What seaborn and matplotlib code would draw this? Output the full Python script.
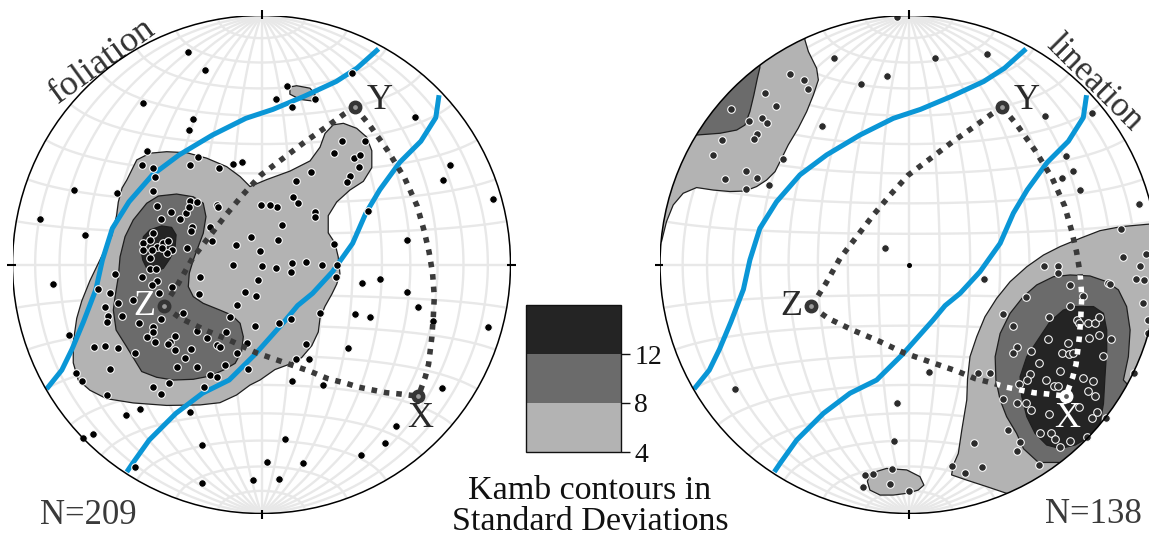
import numpy as np
import matplotlib
matplotlib.use("Agg")
import matplotlib.pyplot as plt
from matplotlib.patches import Polygon, Circle
from matplotlib.colors import ListedColormap, BoundaryNorm
import matplotlib.cm as cm
import seaborn as sns

sns.set_theme(style="white")
plt.rcParams["font.family"] = ["Liberation Serif", "DejaVu Serif"]

# ---------------- data (net units: primitive radius = 100) ----------------
foliation_pts = [
    (-29.7, 85.2), (-22.7, 78.1), (-47.7, 65.0), (-27.6, 58.4), (-29.3, 54.0), (-46.1, 45.6),
    (-25.5, 43.3), (-48.1, 40.0), (-43.5, 38.9), (-28.7, 40.0), (-17.1, 38.6), (-11.3, 40.4),
    (-7.7, 41.3),
    (36.2, 77.0), (10.1, 71.6), (21.5, 66.4), (5.7, 66.4), (12.3, 63.2), (61.7, 59.1), (75.7, 39.8),
    (73.0, 33.8), (93.1, 26.2), (-75.3, 29.8), (-89.0, 18.2), (-70.8, 11.9), (42.9, 21.4), (58.6, 9.7),
    (29.1, 8.2), (-83.6, -7.9), (40.2, -7.6), (47.6, -5.8), (58.3, -10.9), (62.7, -17.1), (37.6, -19.8),
    (43.6, -21.1), (68.8, -22.7), (91.1, -25.1), (34.9, -33.5), (72.6, -49.5), (53.9, -64.9),
    (49.6, -71.8), (40.0, -76.4), (12.1, -46.8), (24.8, -48.2), (9.4, -70.2), (16.5, -79.7),
    (2.1, -79.4), (-3.3, -86.5), (7.2, -86.0), (-23.8, -87.9), (-71.8, -69.8), (-67.6, -68.0),
    (-72.0, -46.7), (-74.5, -43.4), (-77.2, -28.2), (-62.2, -52.3), (-67.2, -33.0), (-65.8, -9.7),
    (-50.8, -81.5), (-43.7, -49.1), (-40.4, -52.0), (-37.0, -47.7), (-23.0, -49.3), (-28.7, -59.4),
    (-48.8, -58.2), (-54.4, -60.6), (-23.8, -72.5),
    (32.2, 49.6), (41.6, 49.6), (29.3, 44.6), (37.3, 42.6), (39.6, 44.0), (39.2, 39.1), (35.5, 35.4),
    (34.2, 33.1), (19.8, 37.1), (13.7, 33.4), (12.8, 27.2), (14.5, 24.7), (6.1, 23.1), (3.4, 23.7),
    (21.5, 21.0), (21.5, 18.9), (8.4, 16.0), (6.8, 10.0), (5.8, -1.3), (12.1, 0.8), (11.9, -3.1),
    (17.9, 1.1), (24.4, -0.3), (30.2, -0.3), (29.9, -4.9), (23.5, -19.6), (7.0, -23.4), (11.9, -21.9),
    (17.7, -31.9), (13.7, -38.1), (19.1, -38.1),
    (-58.2, 28.9), (-43.5, 29.7), (-42.8, 35.0), (-41.8, 23.5), (-36.5, 21.2), (-40.5, 18.1),
    (-32.7, 18.1), (-30.3, 20.6), (-28.7, 25.6), (-26.0, 25.2), (-29.0, 23.0), (-28.1, 15.2),
    (-28.5, 13.5), (-29.8, 6.8), (-20.7, 14.9), (-19.8, 9.4), (-18.0, 23.9), (-17.3, 23.2), (-0.2, 23.9),
    (-43.5, 12.5), (-47.7, 8.8), (-47.5, 5.8), (-44.8, 9.8), (-42.1, 6.9), (-44.1, 5.8), (-39.4, 8.8),
    (-37.4, 9.6), (-36.1, 5.8), (-38.1, 4.5), (-40.1, 6.5), (-44.8, 2.5),
    (-44.8, -1.9), (-42.4, -1.9), (-48.1, -5.2), (-42.1, -6.5), (-44.1, -8.2), (-36.1, -8.9),
    (-41.0, -11.6), (-51.5, -14.3), (-58.8, -3.8), (-60.9, -11.6), (-57.5, -15.6), (-62.9, -17.2),
    (-61.5, -20.7), (-56.2, -20.7), (-61.9, -23.0), (-49.1, -23.4), (-40.5, -22.0), (-31.7, -19.3),
    (-43.5, -25.2), (-43.7, -27.0), (-46.1, -29.0), (-42.8, -31.0), (-34.7, -28.7), (-36.7, -31.0),
    (-37.4, -31.9), (-34.7, -34.3), (-28.5, -34.1), (-30.7, -37.7), (-34.1, -41.0), (-26.0, -41.0),
    (-26.0, -26.6), (-21.8, -29.7), (-14.3, -27.2), (-17.7, -32.3), (-16.7, -33.0), (-10.0, -35.7),
    (-14.7, -40.4), (-50.8, -35.7), (-57.5, -33.7), (-62.9, -32.6), (-60.9, -42.1), (-20.7, -44.4),
    (-17.7, -45.1), (-5.3, -42.1),
    (-24.7, -4.9), (-25.0, -11.9), (-11.3, -0.2), (-10.2, 7.8), (-4.4, 10.9), (-0.6, 5.6), (0.1, -0.6),
    (-1.3, -6.2), (-6.6, -10.9), (-2.2, -12.7), (-9.7, -16.3), (-12.7, -21.0), (-2.6, -24.7), (-6.0, -31.4),
]
foliation_x = [p[0] for p in foliation_pts]
foliation_y = [p[1] for p in foliation_pts]

lineation_pts = [
    (-5.0, 99.2), (-30.1, 82.8), (-19.4, 72.5), (-9.0, 75.7), (-34.8, 55.6), (-50.5, 42.2),
    (-56.1, 31.9), (-9.6, 6.5),
    (-47.8, 76.4), (-42.0, 74.1), (-40.7, 70.5), (-57.8, 68.8), (-53.6, 63.8), (-58.9, 58.7),
    (-56.9, 56.7), (-64.3, 57.6), (-60.9, 52.4), (-62.3, 50.3), (-75.0, 50.0), (-78.6, 44.0),
    (-65.5, 37.5), (-60.9, 34.6), (-73.9, 34.2), (-65.5, 30.3), (-71.5, 62.3),
    (10.4, 82.9), (31.2, 84.7), (54.6, 59.5), (73.4, 60.9), (63.1, 43.7), (66.0, 37.5), (61.3, 34.8),
    (68.7, 29.9), (92.4, 24.2), (-69.9, -49.8), (8.0, -43.2),
    (30.3, -5.8), (85.2, 14.3), (86.1, 3.1), (95.2, 4.2), (92.8, -0.6), (91.2, -5.8), (94.5, -6.2),
    (94.1, -15.6), (96.1, -22.3), (96.1, -27.7), (90.4, -43.5), (54.4, -0.6), (59.7, -0.6),
    (59.7, -3.3), (47.0, -13.2), (64.7, -8.2), (80.1, -7.6), (80.7, -7.8), (37.9, -19.9),
    (41.9, -24.7), (56.2, -21.0), (64.7, -16.7), (69.8, -12.7), (67.4, -22.3), (68.4, -23.4),
    (72.0, -23.6), (74.7, -23.4), (76.5, -21.2), (55.9, -30.1), (63.7, -31.4), (72.4, -29.4),
    (76.5, -28.3), (81.1, -29.9), (43.3, -33.0), (41.6, -35.5), (49.0, -34.6), (61.3, -35.7),
    (64.4, -36.0), (66.0, -35.4), (78.1, -36.6), (52.2, -39.7), (60.6, -42.8), (48.6, -44.0),
    (47.3, -46.2), (44.3, -48.1), (55.0, -46.4), (58.4, -48.9), (60.0, -48.9), (69.8, -45.7),
    (73.8, -46.7), (72.0, -50.7), (74.5, -52.7), (37.6, -54.2), (43.5, -55.8), (47.0, -55.8),
    (48.9, -58.5), (68.4, -57.4), (56.4, -60.1), (75.7, -59.1), (73.4, -61.7), (79.0, -61.7),
    (39.9, -66.3), (52.6, -67.6), (56.9, -67.8), (58.6, -70.2), (60.6, -73.2), (64.7, -70.8),
    (71.4, -69.4), (44.6, -71.4), (43.2, -74.8), (26.1, -71.6), (52.2, -80.5), (27.7, -43.7),
    (32.5, -43.7),
    (-4.7, -55.5), (-5.9, -70.8), (-17.7, -84.6), (-14.6, -84.3), (-7.0, -82.3), (-18.6, -89.2),
    (-7.6, -88.2), (0.1, -91.0), (17.4, -80.9), (22.5, -83.6), (29.5, -81.2),
]
lineation_x = [p[0] for p in lineation_pts]
lineation_y = [p[1] for p in lineation_pts]

# Kamb contour outlines (4, 8, 12 sigma)
fol_c4 = [(-54.1, 33.9), (-50.1, 42.0), (-44.8, 44.7), (-38.1, 45.3), (-30.0, 44.9), (-22.0, 42.7),
          (-14.0, 39.3), (-8.6, 35.3), (-4.6, 31.3), (2.1, 34.1), (11.4, 37.5), (19.5, 41.6),
          (23.5, 47.1), (25.5, 52.6), (28.8, 56.1), (32.9, 56.7), (38.2, 54.7), (42.2, 51.2),
          (44.3, 45.7), (44.3, 38.9), (40.9, 33.4), (35.5, 29.9), (30.2, 25.1), (26.8, 19.6),
          (26.8, 12.7), (29.5, 8.6), (30.8, 3.1), (31.5, -3.7), (30.2, -7.9), (28.2, -12.0),
          (25.5, -16.8), (23.5, -21.6), (22.8, -27.1), (20.2, -32.6), (16.1, -37.4), (10.8, -40.2),
          (5.4, -42.2), (-0.6, -46.4), (-4.6, -48.4), (-10.0, -52.4), (-16.7, -55.5), (-24.7, -56.4),
          (-38.1, -56.6), (-51.5, -55.6), (-62.2, -53.9), (-68.9, -50.5), (-73.6, -46.4),
          (-75.6, -39.5), (-75.6, -31.2), (-74.2, -21.6), (-72.2, -14.7), (-68.9, -6.5),
          (-64.9, 1.8), (-60.2, 11.4), (-58.2, 19.6), (-57.5, 25.1), (-56.0, 30.7)]
fol_c4_small = [(11.4, 71.3), (14.1, 71.8), (19.5, 70.8), (21.5, 68.4), (20.2, 65.7), (15.5, 66.3),
                (11.4, 68.4)]
fol_c8 = [(-46.1, 24.6), (-41.4, 27.5), (-34.1, 28.3), (-27.4, 27.2), (-23.4, 24.6), (-22.3, 19.2),
          (-23.4, 12.5), (-25.4, 7.2), (-27.4, 1.8), (-29.0, -3.5), (-29.4, -8.9), (-27.4, -12.9),
          (-23.4, -15.6), (-16.7, -18.3), (-12.0, -20.3), (-8.6, -23.6), (-7.3, -29.0), (-8.0, -35.0),
          (-10.6, -39.7), (-15.3, -42.4), (-20.7, -44.8), (-27.4, -46.1), (-35.4, -46.4),
          (-42.1, -45.3), (-48.1, -43.0), (-54.2, -33.0), (-58.4, -26.3), (-59.5, -18.3),
          (-58.8, -12.9), (-57.5, -4.9), (-56.8, 3.1), (-54.8, 11.2), (-51.5, 17.9)]
fol_c12 = [(-44.8, 13.9), (-40.1, 15.5), (-36.1, 14.9), (-34.3, 11.9), (-34.7, 7.2), (-36.7, 2.5),
           (-39.4, -1.5), (-42.8, -2.9), (-46.1, -1.5), (-47.7, 1.8), (-48.5, 6.5), (-47.4, 11.2)]

lin_c4_nw = [(-41.8, 90.2), (-40.4, 85.5), (-37.1, 78.8), (-36.4, 74.1), (-38.4, 68.1), (-41.1, 61.4),
             (-44.5, 54.7), (-48.5, 48.0), (-51.8, 41.3), (-53.8, 37.3), (-57.2, 33.9), (-61.2, 31.3),
             (-65.9, 29.5), (-71.9, 29.3), (-78.6, 29.9), (-85.3, 30.9), (-90.7, 28.6), (-94.7, 23.9),
             (-97.4, 17.2), (-99.4, 9.2), (-115, 9), (-115, 115), (-41.8, 115)]
lin_c8_nw = [(-59.9, 79.0), (-60.9, 74.8), (-62.3, 68.1), (-63.9, 61.4), (-65.9, 56.0), (-69.2, 54.0),
             (-75.9, 52.7), (-85.3, 52.0), (-110, 52), (-110, 100), (-60, 100)]
lin_c4_se = [(105, 17), (85.2, 15.2), (76.7, 13.6), (68.7, 10.5), (60.7, 7.2), (54.0, 3.8), (47.3, -0.9),
             (40.6, -6.9), (35.2, -13.6), (30.5, -21.0), (27.2, -29.0), (24.5, -37.0), (23.5, -46.0),
             (23.2, -54.4), (21.2, -66.5), (19.8, -75.9), (17.8, -80.5), (17.1, -84.5), (23.2, -86.6),
             (31.2, -89.2), (39.2, -91.9), (45, -105), (115, -105), (115, 17)]
lin_c8_se = [(79.4, -6.9), (72.7, -4.6), (64.7, -4.2), (58.0, -4.9), (51.3, -8.2), (45.9, -12.9),
             (40.6, -19.6), (36.6, -27.7), (34.6, -37.0), (34.9, -46.4), (36.6, -54.4), (39.2, -61.1),
             (43.2, -67.8), (46.0, -74.0), (52.0, -79.5), (60.0, -79.5), (75, -82), (97, -58),
             (86.1, -46.4), (88.1, -37.0), (88.8, -26.3), (87.4, -16.9), (84.1, -10.2)]
lin_c12_se = [(62.0, -18.3), (56.6, -23.0), (52.6, -29.0), (47.3, -37.0), (44.6, -45.1), (45.3, -53.1),
              (47.3, -61.1), (50.6, -67.8), (55.3, -72.5), (60.7, -73.9), (66.7, -72.5), (72.7, -69.2),
              (76.7, -63.8), (78.1, -55.8), (78.7, -45.1), (79.4, -34.3), (79.4, -26.3), (78.1, -19.6),
              (74.1, -16.9), (66.7, -16.9)]
lin_c4_s = [(-15.7, -83.9), (-9.0, -81.9), (-0.9, -82.5), (4.4, -85.2), (6.0, -88.6), (3.7, -90.6),
            (-0.9, -91.9), (-6.3, -92.6), (-11.6, -92.6), (-15.7, -90.6), (-16.7, -87.2)]

# foliation plane traces (blue) - same in both nets
girdle_a = [(-86.3, -50.0), (-80.2, -42.4), (-76.1, -34.0), (-71.5, -23.0), (-66.5, -10.0), (-63.9, 1.8),
            (-59.9, 14.5), (-53.2, 25.2), (-43.8, 36.0), (-33.1, 44.0), (-19.7, 52.0), (-6.3, 58.7),
            (4.6, 62.3), (17.0, 67.5), (30.0, 73.5), (38.4, 78.9), (47.0, 86.6)]
girdle_b = [(-54.1, -83.3), (-51.8, -79.9), (-45.1, -70.5), (-34.4, -59.8), (-23.7, -51.7), (-13.0, -46.4),
            (-2.5, -36.0), (9.5, -22.5), (14.5, -16.5), (20.5, -11.6), (28.5, -2.9), (36.6, 8.5),
            (41.9, 20.6), (47.5, 30.0), (55.5, 41.0), (64.0, 49.5), (70.0, 59.0), (71.3, 68.0)]

# kinematic axes and the planes joining them
axis_names = ["X", "Y", "Z"]
axis_x = [63.0, 37.4, -39.2]
axis_y = [-52.9, 63.2, -16.8]
path_zy = [(-39.2, -16.8), (-33.4, -7.6), (-27.7, 2.5), (-21.0, 11.2), (-14.3, 19.9), (-7.6, 27.9),
           (-0.3, 35.9), (8.5, 42.5), (17.5, 49.3), (26.5, 55.6), (33.0, 60.3), (37.4, 63.2)]
path_yx = [(37.4, 63.2), (43.4, 56.0), (50.7, 45.7), (57.5, 34.7), (62.5, 23.5), (65.3, 13.6),
           (67.3, 5.0), (68.7, -3.5), (69.4, -12.9), (69.0, -21.0), (68.4, -29.3), (67.1, -40.0),
           (65.8, -45.1), (63.0, -52.9)]
path_zx = [(-39.2, -16.8), (-32.5, -21.6), (-22.5, -26.4), (-12.0, -30.8), (-2.0, -35.5), (9.0, -39.3),
           (19.5, -42.9), (26.5, -45.8), (33.9, -47.7), (39.2, -49.3), (44.6, -50.4), (50.2, -51.5),
           (55.6, -52.0), (63.0, -52.9)]

levels = [4, 8, 12, 16]
level_colors = ["#b3b3b3", "#6b6b6b", "#242424"]

GRID = "#e8e8e8"
BLUE = "#0a96d6"
DOT = "#3a3a3a"


def schmidt_grid(ax):
    t = np.radians(np.linspace(-90, 90, 361))
    for deg in range(-80, 81, 10):
        a = np.radians(deg)
        for lam, phi in ((np.full_like(t, a), t), (t, np.full_like(t, a))):
            k = 1.0 / np.sqrt(1.0 + np.cos(phi) * np.cos(lam))
            ax.plot(100 * k * np.cos(phi) * np.sin(lam), 100 * k * np.sin(phi),
                    color=GRID, lw=1.7, zorder=1, solid_capstyle="butt")


def add_poly(ax, pts, level, clip):
    p = Polygon(pts, closed=True, facecolor=level_colors[level], edgecolor="#1e1e1e",
                lw=0.9, zorder=2, joinstyle="round")
    ax.add_patch(p)
    p.set_clip_path(clip)
    return p


def xy(pts):
    return np.array([q[0] for q in pts]), np.array([q[1] for q in pts])


def draw_net(ax, px, py, polys, point_color, white_label, white_zone=None):
    ax.set_xlim(-100, 100)
    ax.set_ylim(-100, 100)
    ax.axis("off")
    schmidt_grid(ax)
    clip = Circle((0, 0), 100, transform=ax.transData)
    for pts, lev in polys:
        add_poly(ax, pts, lev, clip)
    ax.plot([0], [0], "o", ms=2.6, color="black", zorder=1.5)
    for g in (girdle_a, girdle_b):
        gx, gy = xy(g)
        sns.lineplot(x=gx, y=gy, sort=False, estimator=None, ax=ax, color=BLUE, lw=3.6,
                     solid_capstyle="butt", zorder=3)
    sns.scatterplot(x=px, y=py, ax=ax, s=30, color=point_color, edgecolor="white",
                    linewidth=0.75, zorder=4)
    for pth in (path_zy, path_yx, path_zx):
        gx, gy = xy(pth)
        sns.lineplot(x=gx, y=gy, sort=False, estimator=None, ax=ax, color=DOT, lw=4.0,
                     linestyle=(0, (1.0, 1.25)), dash_capstyle="butt", zorder=5)
        if white_zone is not None:
            sns.lineplot(x=gx, y=gy, sort=False, estimator=None, ax=ax, color="white", lw=4.0,
                         linestyle=(0, (1.0, 1.25)), dash_capstyle="butt", zorder=5.5)
            wp = Polygon(white_zone, closed=True, transform=ax.transData)
            ax.lines[-1].set_clip_path(wp)
    offsets = {"X": (0.7, -9.0), "Y": (10.0, 2.5), "Z": (-8.0, 0.0)}
    for name, mx, my in zip(axis_names, axis_x, axis_y):
        white = (name == white_label)
        if white and white_zone is not None:
            face, centre = "white", "#555555"
        else:
            face, centre = "#353535", "#9a9a9a"
        ax.plot([mx], [my], "o", ms=9.0, color=face, mec=face, zorder=7)
        ax.plot([mx], [my], "o", ms=2.4, color=centre, zorder=7.1)
        dx, dy = offsets[name]
        ax.text(mx + dx, my + dy, name, ha="center", va="center", fontsize=26,
                color="white" if white else "#2a2a2a", zorder=8, clip_on=False)
    ax.add_patch(Circle((0, 0), 100, fill=False, ec="black", lw=1.1, zorder=6))
    for ux, uy in ((0, 1), (1, 0), (0, -1), (-1, 0)):
        ax.plot([98.6 * ux, 102.2 * ux], [98.6 * uy, 102.2 * uy], color="black", lw=1.5,
                zorder=6, clip_on=False, solid_capstyle="butt")


fig = plt.figure(figsize=(11.49, 5.37), dpi=100)
W, H = 1149.0, 537.0
R = 249.0
ax1 = fig.add_axes([(261.5 - R) / W, (H - 264.5 - R) / H, 2 * R / W, 2 * R / H])
ax2 = fig.add_axes([(909.0 - R) / W, (H - 264.5 - R) / H, 2 * R / W, 2 * R / H])

draw_net(ax1, foliation_x, foliation_y,
         [(fol_c4, 0), (fol_c4_small, 0), (fol_c8, 1), (fol_c12, 2)],
         "black", "Z")
draw_net(ax2, lineation_x, lineation_y,
         [(lin_c4_nw, 0), (lin_c8_nw, 1), (lin_c4_se, 0), (lin_c8_se, 1), (lin_c12_se, 2),
          (lin_c4_s, 0)],
         "#2b2b2b", "X", white_zone=lin_c8_se)

ax1.text(-64.0, 81.5, "foliation", rotation=36, rotation_mode="anchor", ha="center",
         va="center", fontsize=26, color="#333333", clip_on=False)
ax2.text(74.6, 72.8, "lineation", rotation=-45, rotation_mode="anchor", ha="center",
         va="center", fontsize=25, color="#333333", clip_on=False)
ax1.text(-69.5, -104.2, "N=209", ha="center", va="baseline", fontsize=25, color="#3a3a3a",
         clip_on=False)
ax2.text(74.0, -103.9, "N=138", ha="center", va="baseline", fontsize=25, color="#3a3a3a",
         clip_on=False)

cax = fig.add_axes([526 / W, (H - 452) / H, 95 / W, 147 / H])
cmap = ListedColormap(level_colors)
norm = BoundaryNorm(levels, cmap.N)
cb = fig.colorbar(cm.ScalarMappable(norm=norm, cmap=cmap), cax=cax, ticks=[4, 8, 12])
cb.minorticks_off()
cb.set_ticks([4, 8, 12])
cb.outline.set_linewidth(1.0)
cb.outline.set_edgecolor("#111111")
cax.tick_params(which="major", length=6.5, width=1.0, labelsize=20, pad=3, colors="#111111")
cax.tick_params(which="minor", length=0)
fig.text(590 / W, (H - 499) / H, "Kamb contours in", ha="center", va="baseline", fontsize=24.5,
         color="#111111")
fig.text(590 / W, (H - 530) / H, "Standard Deviations", ha="center", va="baseline", fontsize=24.5,
         color="#111111")

fig.savefig("out.png", dpi=100)
